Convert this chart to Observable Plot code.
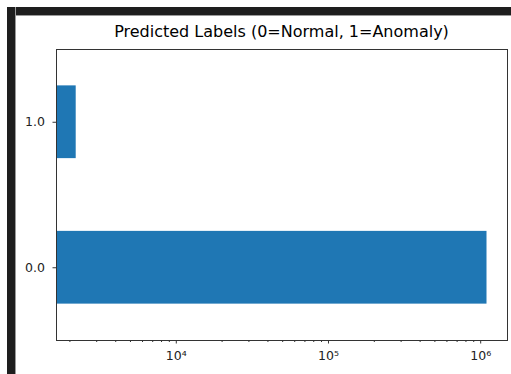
<!DOCTYPE html>
<html>
<head>
<meta charset="utf-8">
<script src="https://cdn.jsdelivr.net/npm/d3@7"></script>
<script src="https://cdn.jsdelivr.net/npm/@observablehq/plot@0.6"></script>
<style>
  html, body { margin: 0; padding: 0; background: #fff; }
  #wrap { position: relative; width: 511px; height: 374px; overflow: hidden; font-family: "DejaVu Sans", sans-serif; }
  .bar-top { position: absolute; left: 7px; top: 7px; width: 504px; height: 8px; background: #1e1e1e; border-bottom: 1px solid #9a9a9a; }
  .bar-left { position: absolute; left: 7px; top: 7px; width: 8px; height: 367px; background: #1e1e1e; border-right: 1px solid #9a9a9a; }
  #title { position: absolute; left: 56px; width: 451px; top: 24px; text-align: center; font-size: 16px; line-height: 1; color: #000; white-space: nowrap; }
  #chart { position: absolute; left: 0; top: 0; }
</style>
</head>
<body>
<div id="wrap">
  <div id="chart"></div>
  <div class="bar-top"></div>
  <div class="bar-left"></div>
  <div id="title">Predicted Labels (0=Normal, 1=Anomaly)</div>
</div>
<script>
const labels = [0, 1];
const counts = [1100000, 2200];
const yTicks = [0, 1];
const xMajorTicks = [1e4, 1e5, 1e6];
const xMinorTicks = [2e3, 3e3, 4e3, 5e3, 6e3, 7e3, 8e3, 9e3,
                     2e4, 3e4, 4e4, 5e4, 6e4, 7e4, 8e4, 9e4,
                     2e5, 3e5, 4e5, 5e5, 6e5, 7e5, 8e5, 9e5];

const data = labels.map((l, i) => ({label: l, count: counts[i]}));
const sup = {"0":"⁰","1":"¹","2":"²","3":"³","4":"⁴","5":"⁵","6":"⁶","7":"⁷","8":"⁸","9":"⁹"};
const halfBar = 0.25;

const chart = Plot.plot({
  width: 511,
  height: 374,
  marginLeft: 56,
  marginRight: 4,
  marginTop: 49,
  marginBottom: 34,
  style: {fontFamily: "DejaVu Sans, sans-serif", fontSize: "12px", color: "#000", background: "transparent"},
  x: {type: "log", domain: [1633, 1.5e6], label: null},
  y: {type: "linear", domain: [-0.5, 1.5], label: null},
  marks: [
    Plot.rect(data, {
      y1: d => d.label - halfBar,
      y2: d => d.label + halfBar,
      x1: () => 1,
      x2: "count",
      fill: "#1f77b4",
      clip: true
    }),
    Plot.axisX({ticks: xMinorTicks, tickSize: 2, tickFormat: () => "", stroke: "#333", label: null}),
    Plot.axisX({ticks: xMajorTicks, tickSize: 3.5, tickPadding: 7,
      tickFormat: d => "10" + String(Math.round(Math.log10(d))).split("").map(c => sup[c]).join(""),
      stroke: "#333", fill: "#222", fontSize: 12.5, label: null}),
    Plot.axisY({ticks: yTicks, tickSize: 3.5, tickPadding: 8, tickFormat: d => d.toFixed(1),
      stroke: "#333", fill: "#222", fontSize: 12.5, label: null}),
    Plot.frame({stroke: "#333", strokeWidth: 1})
  ]
});
document.getElementById("chart").appendChild(chart);
</script>
</body>
</html>
